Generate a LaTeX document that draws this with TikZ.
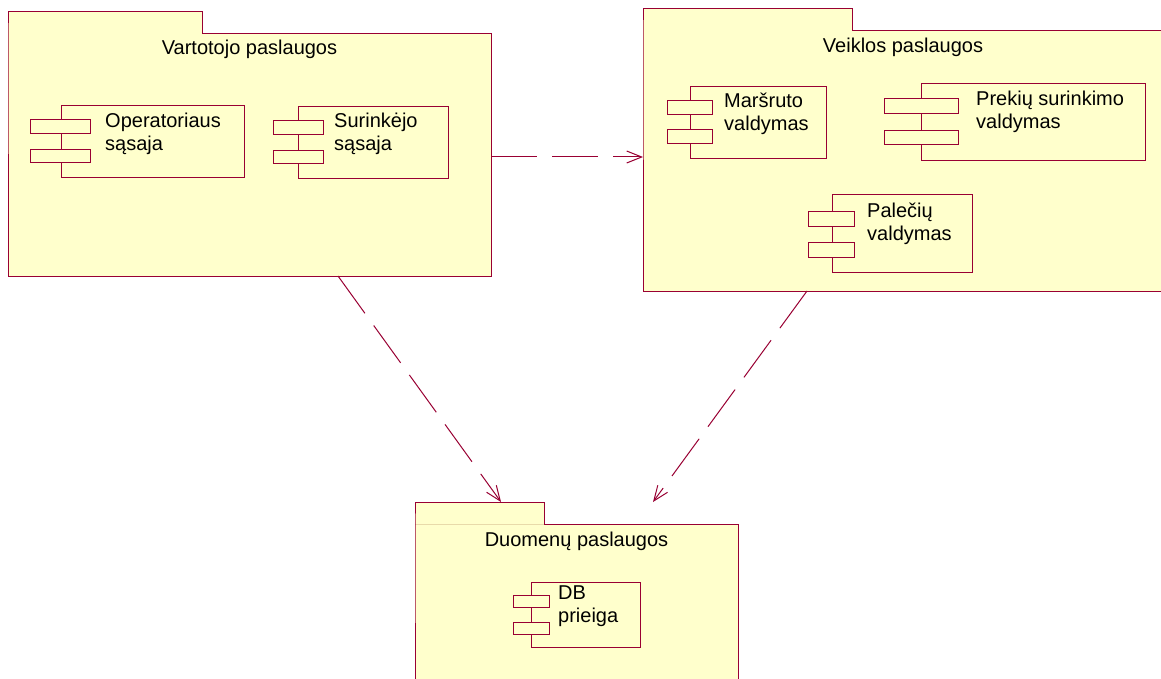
\documentclass[tikz,border=0pt]{standalone}
\usepackage{fontspec}
\setmainfont{Liberation Sans}
\usetikzlibrary{calc,arrows.meta}

\definecolor{umlline}{RGB}{153,0,51}
\definecolor{umlfill}{RGB}{255,255,204}
\definecolor{tabseam}{RGB}{232,218,170}

\tikzset{
  pkgarea/.style={rectangle, fill=umlfill, draw=none, inner sep=0pt, outer sep=0pt, anchor=north west},
  pkgedge/.style={draw=umlline, line width=1pt, line join=miter},
  compbody/.style={rectangle, fill=umlfill, draw=umlline, line width=1pt, inner sep=0pt, outer sep=0pt, anchor=north west},
  portbox/.style={fill=umlfill, draw=umlline, line width=1pt},
  title/.style={anchor=base, inner sep=0pt, font=\fontsize{20}{23}\selectfont},
  label/.style={anchor=base west, inner sep=0pt, font=\fontsize{20}{23}\selectfont},
  depends/.style={draw=umlline, line width=1pt, dash pattern=on 46pt off 15pt,
    -{Straight Barb[length=15pt,width=12pt]}}
}

\begin{document}
\begin{tikzpicture}[x=1pt,y=-1pt]
\useasboundingbox (0,0) rectangle (1161,679);
\fill[white] (0,0) rectangle (1161,679);
\clip (0,0) rectangle (1161,679);

% ---- package: Vartotojo paslaugos ----
\node[pkgarea, minimum width=483pt, minimum height=242pt] (vbody) at (8,34) {};
\node[pkgarea, minimum width=194pt, minimum height=22pt] (vtab) at (8,12) {};
\draw[pkgedge] (vtab.south west) -- (vtab.north west) -- (vtab.north east)
  -- (vtab.south east) -- (vbody.north east) -- (vbody.south east)
  -- (vbody.south west) -- cycle;
\node[title] (vtitle) at ($(vbody.north)+(0,21)$) {Vartotojo paslaugos};

% component: Operatoriaus sąsaja
\node[compbody, minimum width=183pt, minimum height=72pt] (opbody) at (61,106) {};
\draw[portbox] ($(opbody.north west)+(-31,14)$) rectangle +(60,14);
\draw[portbox] ($(opbody.north west)+(-31,44)$) rectangle +(60,13);
\node[label] (optext) at ($(opbody.north west)+(44,22)$)
  {\begin{tabular}[t]{@{}l@{}}Operatoriaus\\sąsaja\end{tabular}};

% component: Surinkėjo sąsaja
\node[compbody, minimum width=150pt, minimum height=72pt] (surbody) at (298,107) {};
\draw[portbox] ($(surbody.north west)+(-25,14)$) rectangle +(50,14);
\draw[portbox] ($(surbody.north west)+(-25,44)$) rectangle +(50,13);
\node[label] (surtext) at ($(surbody.north west)+(36,21)$)
  {\begin{tabular}[t]{@{}l@{}}Surinkėjo\\sąsaja\end{tabular}};

% ---- package: Veiklos paslaugos ----
\node[pkgarea, minimum width=532pt, minimum height=260pt] (kbody) at (643,31) {};
\node[pkgarea, minimum width=209pt, minimum height=22pt] (ktab) at (643,9) {};
\draw[pkgedge] (ktab.south west) -- (ktab.north west) -- (ktab.north east)
  -- (ktab.south east) -- (kbody.north east) -- (kbody.south east)
  -- (kbody.south west) -- cycle;
\node[title] (ktitle) at ($(kbody.north west)+(260,22)$) {Veiklos paslaugos};

% component: Maršruto valdymas
\node[compbody, minimum width=136pt, minimum height=72pt] (marbody) at (690,87) {};
\draw[portbox] ($(marbody.north west)+(-23,14)$) rectangle +(45,14);
\draw[portbox] ($(marbody.north west)+(-23,43)$) rectangle +(45,14);
\node[label] (martext) at ($(marbody.north west)+(34,21)$)
  {\begin{tabular}[t]{@{}l@{}}Maršruto\\valdymas\end{tabular}};

% component: Prekių surinkimo valdymas
\node[compbody, minimum width=224pt, minimum height=77pt] (prebody) at (921,84) {};
\draw[portbox] ($(prebody.north west)+(-37,15)$) rectangle +(74,15);
\draw[portbox] ($(prebody.north west)+(-37,47)$) rectangle +(74,14);
\node[label] (pretext) at ($(prebody.north west)+(55,22)$)
  {\begin{tabular}[t]{@{}l@{}}Prekių surinkimo\\valdymas\end{tabular}};

% component: Palečių valdymas
\node[compbody, minimum width=140pt, minimum height=77pt] (palbody) at (832,195) {};
\draw[portbox] ($(palbody.north west)+(-24,16)$) rectangle +(46,15);
\draw[portbox] ($(palbody.north west)+(-24,47)$) rectangle +(46,15);
\node[label] (paltext) at ($(palbody.north west)+(35,23)$)
  {\begin{tabular}[t]{@{}l@{}}Palečių\\valdymas\end{tabular}};

% ---- package: Duomenų paslaugos ----
\node[pkgarea, minimum width=323pt, minimum height=200pt] (dbody) at (415,524) {};
\node[pkgarea, minimum width=129pt, minimum height=22pt] (dtab) at (415,502) {};
\draw[tabseam, line width=1pt] (dtab.south west) -- (dtab.south east);
\draw[pkgedge] (dtab.south west) -- (dtab.north west) -- (dtab.north east)
  -- (dtab.south east) -- (dbody.north east) -- (dbody.south east)
  -- (dbody.south west) -- cycle;
\node[title] (dtitle) at ($(dbody.north)+(0,22)$) {Duomenų paslaugos};

% component: DB prieiga
\node[compbody, minimum width=109pt, minimum height=65pt] (dbcomp) at (531,582) {};
\draw[portbox] ($(dbcomp.north west)+(-18,13)$) rectangle +(36,12);
\draw[portbox] ($(dbcomp.north west)+(-18,40)$) rectangle +(36,12);
\node[label] (dbtext) at ($(dbcomp.north west)+(27,17)$)
  {\begin{tabular}[t]{@{}l@{}}DB\\prieiga\end{tabular}};

% ---- dependencies ----
\draw[depends] ($(vbody.east)+(0,2)$) -- ($(kbody.west)+(0,-4)$);
\draw[depends] ($(vbody.south west)+(330,0)$) -- ($(dtab.north west)+(86,0)$);
\draw[depends] ($(kbody.south west)+(164,0)$) -- ($(dtab.north east)+(109,0)$);
\end{tikzpicture}
\end{document}
